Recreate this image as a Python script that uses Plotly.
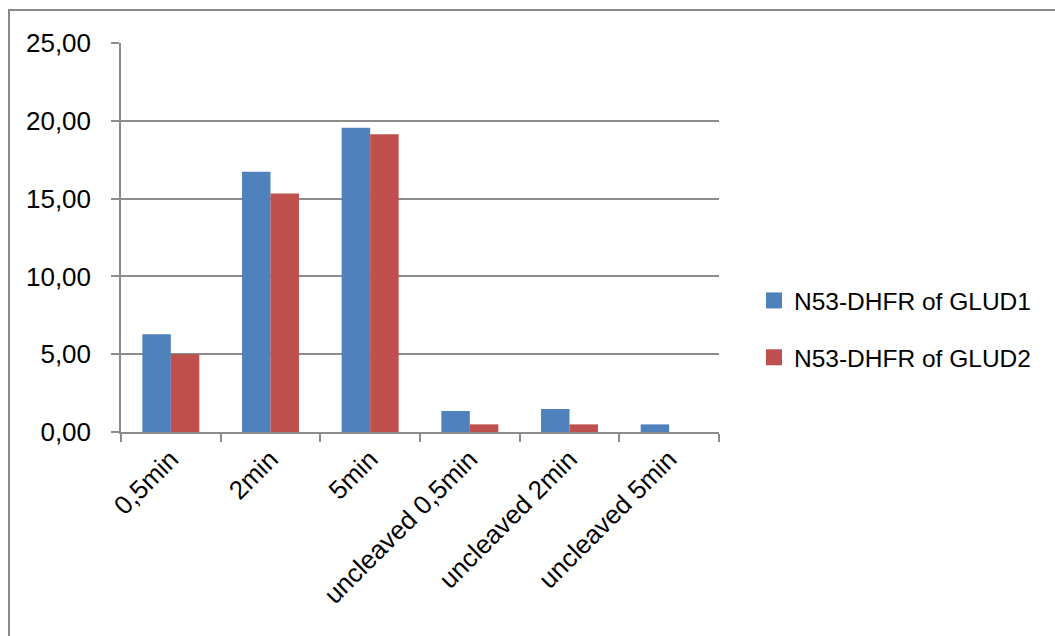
import plotly.graph_objects as go

categories = ["0,5min", "2min", "5min", "uncleaved 0,5min", "uncleaved 2min", "uncleaved 5min"]
glud1 = [6.29, 16.72, 19.55, 1.35, 1.48, 0.49]
glud2 = [5.00, 15.33, 19.14, 0.49, 0.49, 0.00]
series_names = ["N53-DHFR of GLUD1", "N53-DHFR of GLUD2"]
colors = ["#4F81BD", "#C0504D"]

W, H = 1055, 636
ML, MR, MT, MB = 121, 1055 - 719, 43, 636 - 432
PW, PH = W - ML - MR, H - MT - MB

def px_x(p):
    return (p - ML) / PW

def px_y(p):
    return (H - MB - p) / PH

fig = go.Figure()
for name, vals, c, grp in zip(series_names, [glud1, glud2], colors, ["a", "b"]):
    fig.add_trace(go.Bar(x=categories, y=vals, name=name, marker=dict(color=c, line=dict(width=0)),
                         showlegend=False, legendgroup=grp))
    fig.add_trace(go.Scatter(x=[None], y=[None], mode="markers", name=name, legendgroup=grp,
                             marker=dict(symbol="square", size=19, color=c)))

font_family = "Liberation Sans, Arial, sans-serif"
fig.update_layout(
    width=W, height=H,
    margin=dict(l=ML, r=MR, t=MT, b=MB, autoexpand=False),
    paper_bgcolor="white", plot_bgcolor="white",
    separators=",.",
    barmode="group", bargap=0.4286, bargroupgap=0,
    font=dict(family=font_family, size=26, color="#000000"),
    legend=dict(x=px_x(754), y=px_y(329), xanchor="left", yanchor="middle",
                font=dict(size=24.5, color="#000000"), tracegroupgap=22,
                bgcolor="rgba(0,0,0,0)", itemwidth=30),
    xaxis=dict(type="category", showline=True, linecolor="#8c8c8c", linewidth=1.5,
               ticks="outside", ticklen=8, tickcolor="#8c8c8c", tickwidth=1.5,
               tickson="boundaries", tickangle=-45, showgrid=False,
               tickfont=dict(size=26)),
    yaxis=dict(range=[0, 25], dtick=5, tickformat=".2f", showline=True, linecolor="#8c8c8c",
               linewidth=1.5, ticks="outside", ticklen=8, tickcolor="#8c8c8c", tickwidth=1.5,
               showgrid=True, gridcolor="#8c8c8c", gridwidth=1.5, zeroline=False,
               ticklabelstandoff=15, tickfont=dict(size=26)),
    shapes=[dict(type="rect", xref="paper", yref="paper",
                 x0=px_x(9), x1=px_x(1070), y0=px_y(650), y1=px_y(10),
                 line=dict(color="#8a8a8a", width=2), fillcolor="rgba(0,0,0,0)", layer="below")],
)

fig.write_html("out.html")
